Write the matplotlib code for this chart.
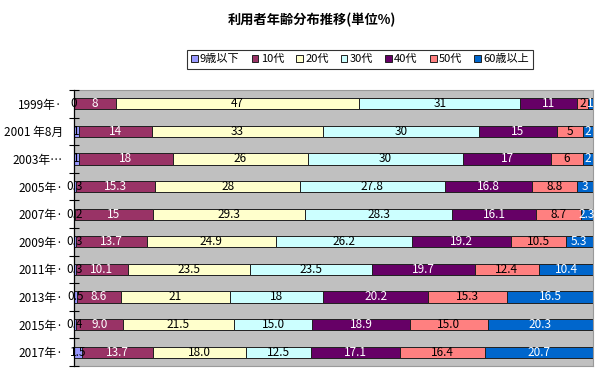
import numpy as np
import matplotlib
matplotlib.use('Agg')
import matplotlib.pyplot as plt

plt.rcParams['font.family'] = ['Noto Sans CJK JP', 'DejaVu Sans']

# survey dates (top to bottom)
periods = ['1999年·', '2001 年8月', '2003年…', '2005年·', '2007年·',
           '2009年·', '2011年·', '2013年·', '2015年·', '2017年·']

age_groups = ['9歳以下', '10代', '20代', '30代', '40代', '50代', '60歳以上']

# share per age group (%) for each period
under_10 = [0, 1, 1, 0.3, 0.2, 0.3, 0.3, 0.5, 0.4, 1.5]
teens = [8, 14, 18, 15.3, 15, 13.7, 10.1, 8.6, 9.0, 13.7]
twenties = [47, 33, 26, 28, 29.3, 24.9, 23.5, 21, 21.5, 18.0]
thirties = [31, 30, 30, 27.8, 28.3, 26.2, 23.5, 18, 15.0, 12.5]
forties = [11, 15, 17, 16.8, 16.1, 19.2, 19.7, 20.2, 18.9, 17.1]
fifties = [2, 5, 6, 8.8, 8.7, 10.5, 12.4, 15.3, 15.0, 16.4]
over_60 = [1, 2, 2, 3, 2.3, 5.3, 10.4, 16.5, 20.3, 20.7]

# label format per row (later surveys print one decimal)
row_fmt = ['g', 'g', 'g', 'g', 'g', 'g', 'g', 'g', '.1f', '.1f']

colors = ['#9999FF', '#993366', '#FFFFCC', '#CCFFFF', '#660066', '#FF8080', '#0066CC']
text_colors = ['black', 'white', 'black', 'black', 'white', 'black', 'white']

data = np.array([under_10, teens, twenties, thirties, forties, fifties, over_60])
# 100% stacked: normalise each period
shares = data / data.sum(axis=0) * 100

fig = plt.figure(figsize=(6, 3.81), dpi=100)
ax = fig.add_axes([0.1233, 0.0394, 0.8650, 0.7244])
ax.set_facecolor('#C0C0C0')

y = np.arange(len(periods))
left = np.zeros(len(periods))
handles = []
for k, name in enumerate(age_groups):
    bars = ax.barh(y, shares[k], left=left, height=0.4, color=colors[k],
                   edgecolor='#202020', linewidth=0.7, label=name)
    handles.append(bars)
    for i in range(len(periods)):
        cx = left[i] + shares[k][i] / 2
        ax.text(cx, y[i], format(data[k][i], row_fmt[i]), ha='center', va='center',
                fontsize=8.5, color=text_colors[k], zorder=3, clip_on=False)
    left += shares[k]

ax.set_xlim(0, 100)
ax.set_ylim(len(periods) - 0.5, -0.5)
ax.set_xticks([])

ax.set_yticks(y)
ax.set_yticklabels(periods, fontsize=8.5)
ax.tick_params(axis='y', which='major', length=0, pad=8)
ax.set_yticks(np.arange(len(periods) + 1) - 0.5, minor=True)
ax.tick_params(axis='y', which='minor', length=7, direction='inout', width=0.8)
ax.yaxis.set_zorder(4)
for lbl in ax.get_yticklabels():
    lbl.set_bbox(dict(facecolor='white', edgecolor='none', pad=0))

for side in ['top', 'right', 'bottom']:
    ax.spines[side].set_color('#9A9A9A')
ax.spines['left'].set_color('black')
ax.spines['left'].set_linewidth(0.9)

fig.text(0.52, 0.947, '利用者年齢分布推移(単位%)', ha='center', va='center',
         fontsize=9.5, fontweight='bold')

leg = fig.legend(handles=handles, loc='center', bbox_to_anchor=(0.6, 0.844), ncol=7,
                 fontsize=8, frameon=True, fancybox=False, handlelength=0.6,
                 handleheight=0.6, handletextpad=0.2, columnspacing=1.1,
                 borderpad=0.4, borderaxespad=0)
leg.get_frame().set_edgecolor('black')
leg.get_frame().set_linewidth(0.8)

fig.savefig('out.png', dpi=100)
